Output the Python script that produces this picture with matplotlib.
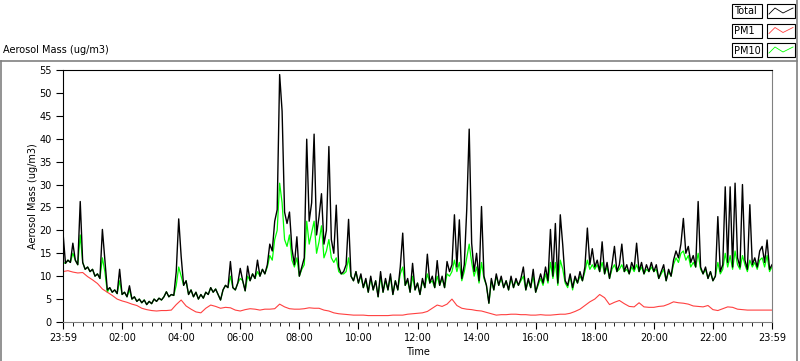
import matplotlib.pyplot as plt
from matplotlib.lines import Line2D
from matplotlib.patches import Rectangle
import numpy as np

# Total aerosol mass, one reading every 5 minutes from 23:59 (0 min) to 23:59 (1440 min)
total = [
    19.5, 12.8, 13.5, 13.0, 17.2, 13.5, 12.5, 26.3, 13.0, 11.5, 12.0, 11.0,
    11.5, 10.0, 10.5, 9.5, 20.2, 13.5, 7.0, 7.5, 6.5, 7.0, 6.2, 11.5,
    6.0, 6.5, 5.5, 7.9, 5.0, 5.5, 4.5, 5.0, 4.2, 4.8, 3.8, 4.5,
    4.0, 5.0, 4.5, 5.2, 4.8, 5.5, 6.6, 5.5, 6.0, 5.8, 11.0, 22.5,
    14.3, 8.0, 9.0, 6.0, 7.0, 5.5, 6.5, 5.0, 6.0, 5.2, 6.5, 6.0,
    7.5, 6.5, 7.2, 6.0, 4.8, 7.0, 8.0, 7.5, 13.2, 7.5, 7.0, 8.5,
    11.7, 9.0, 6.8, 12.2, 9.0, 10.5, 9.5, 13.5, 10.0, 11.5, 10.5, 12.5,
    17.0, 15.5, 22.0, 24.5, 54.0, 46.0, 24.0, 21.5, 24.0, 16.0, 12.5, 18.6,
    10.0, 12.0, 14.0, 39.9, 22.0, 26.0, 41.0, 19.0, 23.0, 28.0, 17.0, 20.0,
    38.3, 18.0, 15.0, 25.5, 12.0, 10.5, 11.0, 12.5, 22.4, 10.0, 9.0, 11.0,
    8.5, 10.5, 7.5, 9.5, 6.5, 10.0, 7.0, 9.0, 5.5, 11.0, 6.5, 9.5,
    7.0, 10.5, 6.0, 9.0, 7.0, 12.0, 19.4, 8.0, 9.5, 6.5, 12.8, 7.0,
    8.5, 6.0, 9.5, 7.5, 14.8, 8.5, 10.0, 7.5, 13.4, 8.0, 10.0, 7.5,
    13.2, 11.0, 12.5, 23.4, 12.0, 22.3, 9.5, 12.5, 24.5, 42.1, 17.2, 11.0,
    15.0, 9.0, 25.2, 10.0, 8.0, 4.1, 9.5, 7.0, 10.5, 8.0, 10.0, 7.5,
    9.0, 7.0, 10.0, 7.5, 9.5, 8.0, 9.5, 12.0, 7.0, 9.5, 7.5, 11.5,
    6.5, 8.5, 10.5, 8.5, 12.0, 9.0, 20.2, 10.0, 21.5, 8.5, 23.4, 16.8,
    9.0, 8.0, 10.5, 7.5, 10.0, 8.5, 11.0, 9.0, 12.0, 20.5, 12.5, 16.0,
    12.0, 13.5, 11.0, 17.5, 10.5, 13.0, 9.5, 12.5, 16.5, 11.0, 12.5, 17.0,
    11.0, 12.5, 10.5, 13.0, 11.5, 17.2, 11.0, 13.0, 10.5, 12.5, 11.0, 13.0,
    11.0, 12.5, 9.5, 11.0, 12.5, 9.0, 11.5, 10.0, 13.5, 15.5, 14.0, 17.0,
    22.6, 15.0, 16.5, 13.0, 14.5, 12.0, 26.3, 12.0, 10.5, 12.0, 9.5, 11.0,
    9.0, 10.0, 23.0, 11.0, 12.5, 29.5, 13.0, 29.5, 12.0, 30.3, 14.0, 12.0,
    30.0, 13.5, 11.5, 25.6, 12.5, 14.0, 12.0, 15.5, 16.5, 13.0, 17.9, 11.5,
    12.5,
]

# PM10, same 5 minute readings
pm10 = [
    13.0, 12.8, 13.5, 13.0, 15.0, 13.5, 12.5, 19.0, 13.0, 11.5, 12.0, 11.0,
    11.5, 10.0, 10.5, 9.5, 14.0, 11.0, 6.5, 7.5, 6.5, 7.0, 6.2, 9.0,
    6.0, 6.5, 5.5, 7.0, 5.0, 5.5, 4.5, 5.0, 4.2, 4.8, 3.8, 4.5,
    4.0, 5.0, 4.5, 5.2, 4.8, 5.5, 6.6, 5.5, 6.0, 5.8, 8.0, 12.0,
    10.0, 8.0, 9.0, 6.0, 7.0, 5.5, 6.5, 5.0, 6.0, 5.2, 6.5, 6.0,
    7.5, 6.5, 7.2, 6.0, 4.8, 7.0, 8.0, 7.5, 10.0, 7.5, 7.0, 8.5,
    9.5, 9.0, 6.8, 10.0, 9.0, 10.5, 9.5, 11.0, 10.0, 11.5, 10.5, 12.0,
    14.5, 13.5, 18.0, 20.0, 30.3, 26.0, 18.0, 16.5, 19.0, 13.5, 12.0, 14.0,
    10.0, 11.5, 12.5, 22.0, 17.0, 19.5, 22.0, 15.0, 17.5, 21.0, 14.0, 15.5,
    18.0, 14.0, 13.0, 14.0, 11.0, 10.5, 10.5, 11.0, 14.0, 10.0, 9.0, 11.0,
    8.5, 10.0, 7.5, 9.0, 6.5, 9.5, 7.0, 9.0, 5.5, 10.0, 6.5, 9.0,
    7.0, 10.0, 6.0, 9.0, 7.0, 10.5, 12.0, 8.0, 9.0, 6.5, 10.0, 7.0,
    8.5, 6.0, 9.0, 7.5, 10.5, 8.5, 9.0, 7.5, 10.0, 8.0, 9.5, 7.5,
    10.5, 10.0, 11.0, 13.5, 11.0, 13.0, 9.0, 11.0, 14.0, 17.0, 13.0, 10.0,
    12.0, 8.5, 13.0, 9.5, 8.0, 4.1, 9.0, 7.0, 10.0, 8.0, 9.5, 7.5,
    9.0, 7.0, 9.5, 7.5, 9.0, 8.0, 9.0, 10.0, 7.0, 9.0, 7.5, 10.0,
    6.5, 8.0, 9.5, 8.0, 10.5, 8.5, 13.0, 9.5, 13.0, 8.0, 13.5, 11.5,
    8.5, 7.5, 10.0, 7.0, 9.5, 8.5, 10.0, 9.0, 11.0, 13.5, 11.5, 12.5,
    11.5, 12.5, 11.0, 13.0, 10.5, 12.0, 9.5, 11.5, 12.5, 11.0, 11.5, 12.5,
    11.0, 11.5, 10.5, 12.0, 11.0, 12.5, 11.0, 12.0, 10.5, 11.5, 11.0, 12.0,
    11.0, 11.5, 9.5, 10.5, 11.5, 9.0, 11.0, 10.0, 12.5, 14.0, 13.0, 15.0,
    15.5, 13.5, 14.5, 12.0, 13.0, 12.0, 15.0, 11.5, 10.5, 11.5, 9.5, 11.0,
    9.0, 10.0, 13.0, 10.5, 11.5, 15.0, 12.0, 14.5, 11.5, 15.5, 12.5, 11.5,
    14.5, 12.5, 11.0, 13.5, 12.0, 13.0, 11.5, 13.5, 14.0, 12.0, 14.5, 11.0,
    12.0,
]

# PM1, one reading every 10 minutes
pm1 = [
    11.0, 11.2, 10.9, 10.7, 10.8, 9.9,
    9.2, 8.4, 7.2, 6.5, 5.8, 5.0,
    4.6, 4.3, 3.9, 3.6, 3.0, 2.7,
    2.5, 2.4, 2.5, 2.5, 2.6, 3.8,
    4.8, 3.5, 2.8, 2.2, 2.0, 3.0,
    3.7, 3.4, 3.0, 3.2, 3.1, 2.6,
    2.4, 2.7, 2.9, 2.8, 2.6, 2.8,
    2.8, 2.9, 3.9, 3.3, 2.9, 2.8,
    2.8, 2.9, 3.1, 3.0, 3.0, 2.6,
    2.4, 2.0, 1.8, 1.7, 1.6, 1.5,
    1.5, 1.5, 1.4, 1.4, 1.4, 1.4,
    1.4, 1.5, 1.5, 1.5, 1.7, 1.8,
    1.9, 2.0, 2.3, 3.0, 3.7, 3.4,
    3.9, 5.0, 3.6, 3.0, 2.8, 2.7,
    2.5, 2.4, 2.1, 1.8, 1.5, 1.6,
    1.6, 1.7, 1.7, 1.6, 1.6, 1.5,
    1.5, 1.6, 1.5, 1.5, 1.6, 1.7,
    1.7, 1.9, 2.3, 2.8, 3.6, 4.4,
    5.0, 6.0, 5.3, 3.8, 4.3, 4.7,
    4.0, 3.4, 3.3, 4.2, 3.3, 3.2,
    3.2, 3.4, 3.5, 3.9, 4.4, 4.2,
    4.1, 3.9, 3.5, 3.4, 3.3, 3.6,
    2.7, 2.5, 2.9, 3.3, 3.2, 2.8,
    2.7, 2.6, 2.6, 2.6, 2.6, 2.6,
    2.6,
]

time_labels = ["23:59", "02:00", "04:00", "06:00", "08:00", "10:00", "12:00",
               "14:00", "16:00", "18:00", "20:00", "22:00", "23:59"]

t_total = np.arange(len(total)) * 5
t_pm1 = np.arange(len(pm1)) * 10

W, H = 800, 361
fig = plt.figure(figsize=(W / 100, H / 100), dpi=100)
plt.rcParams['font.family'] = 'DejaVu Sans'

ax = fig.add_axes([63 / W, 39 / H, 709 / W, 252 / H])
ax.plot(t_total, pm10, color='#00ff00', lw=0.9)
ax.plot(t_total, total, color='black', lw=1.0)
ax.plot(t_pm1, pm1, color='#ff4040', lw=0.8)

ax.set_xlim(0, 1440)
ax.set_ylim(0, 55)
ax.set_yticks(range(0, 56, 5))
ax.set_xticks(range(0, 1441, 120))
ax.set_xticklabels(time_labels)
ax.set_xticks(range(0, 1441, 20), minor=True)
ax.tick_params(axis='both', labelsize=7, width=0.8)
ax.tick_params(axis='y', length=5, pad=3)
ax.tick_params(axis='x', which='major', length=5, pad=3)
ax.tick_params(axis='x', which='minor', length=3)
ax.set_ylabel('Aerosol Mass (ug/m3)', fontsize=7, labelpad=1)
ax.set_xlabel('Time', fontsize=7, labelpad=3)

for s in ['top', 'left']:
    ax.spines[s].set_color('black')
    ax.spines[s].set_linewidth(0.8)
for s in ['right', 'bottom']:
    ax.spines[s].set_color('#808080')
    ax.spines[s].set_linewidth(0.8)

# outer panel frame
def fig_line(xs, ys, color='#808080'):
    fig.add_artist(Line2D([x / W for x in xs], [1 - y / H for y in ys],
                          transform=fig.transFigure, color=color, lw=1.2))

fig_line([1, 797], [61, 61])
fig_line([1, 1], [61, 361])
fig_line([797, 797], [0, 361])

fig.text(3 / W, 1 - 50 / H, 'Aerosol Mass (ug/m3)', fontsize=7, va='center', ha='left')

# legend in the top right corner
legend_names = ['Total', 'PM1', 'PM10']
legend_colors = ['black', '#ff4040', '#00ff00']
row_top = [4, 23.5, 43]
for name, col, y0 in zip(legend_names, legend_colors, row_top):
    y1 = y0 + 14
    fig.add_artist(Rectangle((732 / W, 1 - y1 / H), 30 / W, 14 / H,
                             transform=fig.transFigure, fill=False, ec='black', lw=0.8))
    fig.text(734 / W, 1 - (y0 + 7.5) / H, name, fontsize=7, va='center', ha='left')
    fig.add_artist(Rectangle((767 / W, 1 - y1 / H), 28 / W, 14 / H,
                             transform=fig.transFigure, fill=False, ec='black', lw=0.8))
    zx = [769, 775, 783, 793]
    zy = [y0 + 10, y0 + 4, y0 + 9, y0 + 4]
    fig.add_artist(Line2D([x / W for x in zx], [1 - y / H for y in zy],
                          transform=fig.transFigure, color=col, lw=0.6))

fig.savefig('out.png', dpi=100)
